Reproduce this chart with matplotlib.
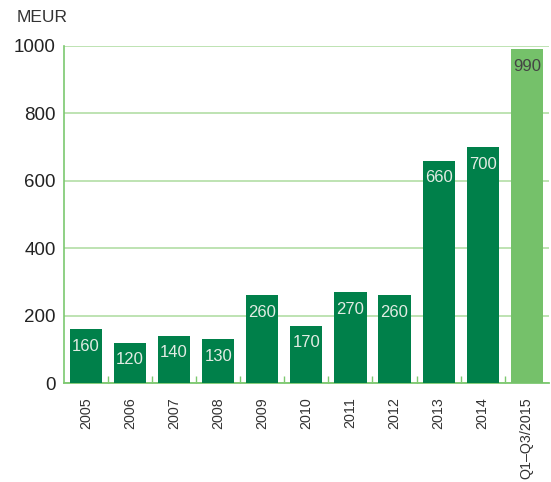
import matplotlib

matplotlib.use("Agg")
import matplotlib.pyplot as plt
import numpy as np
from matplotlib.ticker import FixedLocator

categories = ["2005", "2006", "2007", "2008", "2009", "2010", "2011",
              "2012", "2013", "2014", "Q1\u2013Q3/2015"]
values = [160, 120, 140, 130, 260, 170, 270, 260, 660, 700, 990]
y_ticks = [0, 200, 400, 600, 800, 1000]

DARK = "#00804a"
LIGHT = "#75c16a"
GRID = "#b9e0ac"
SPINE = "#7cc86f"

plt.rcParams["font.family"] = ["Liberation Sans", "DejaVu Sans"]

fig = plt.figure(figsize=(5.51, 4.82), dpi=100)
ax = fig.add_axes([0.116, 0.205, 0.880, 0.700])

x = np.arange(len(categories))
colors = [DARK] * (len(values) - 1) + [LIGHT]
bars = ax.bar(x, values, width=0.73, color=colors, zorder=3)

# подписи значений внутри столбцов, чуть ниже верхнего края
for b, v, c in zip(bars, values, colors):
    txt_color = "#444444" if c == LIGHT else "#e2ece4"
    ax.annotate(str(v), (b.get_x() + b.get_width() / 2, v),
                xytext=(0, -17), textcoords="offset pixels",
                ha="center", va="center", fontsize=12, color=txt_color, zorder=4)

ax.set_xlim(-0.5, len(categories) - 0.5)
ax.set_ylim(0, 1000)
ax.set_yticks(y_ticks)
ax.set_yticklabels([str(t) for t in y_ticks], fontsize=13.5, color="#222222")
ax.tick_params(axis="y", length=0, pad=6)

ax.set_xticks(x)
ax.set_xticklabels(categories, rotation=90, fontsize=10.3, color="#333333")
ax.tick_params(axis="x", which="major", length=0, pad=10)
ax.xaxis.set_minor_locator(FixedLocator(x[:-1] + 0.5))
ax.tick_params(axis="x", which="minor", direction="in", length=5, color=SPINE, width=1)

ax.yaxis.grid(True, color=GRID, linewidth=1.3, zorder=0)
ax.set_axisbelow(True)

for side in ("top", "right"):
    ax.spines[side].set_visible(False)
ax.spines["left"].set_color(SPINE)
ax.spines["bottom"].set_color(SPINE)
ax.spines["left"].set_linewidth(1.2)
ax.spines["bottom"].set_linewidth(1.3)

fig.text(17 / 551, 1 - 17 / 482, "MEUR", fontsize=12.5, color="#333333",
         ha="left", va="center")

fig.savefig("out.png", dpi=100)
